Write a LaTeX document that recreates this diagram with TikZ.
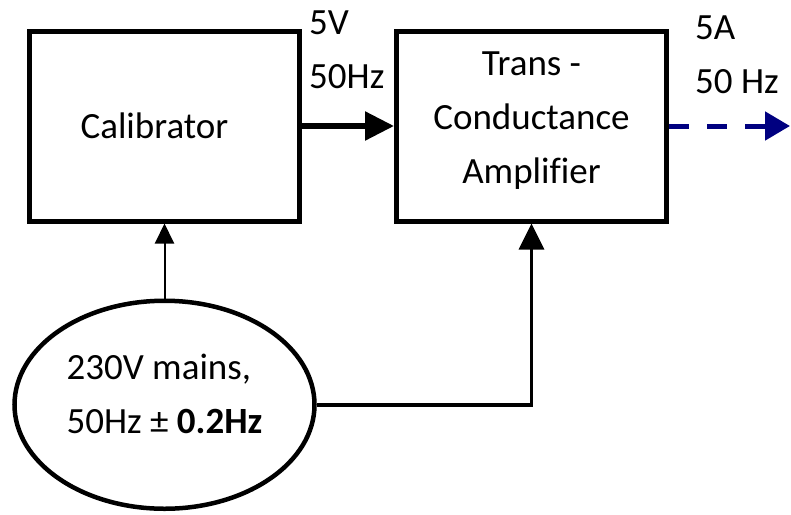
\documentclass[tikz,border=0pt]{standalone}
\usepackage{fontspec}
\setmainfont[Ligatures=NoCommon]{Carlito}
\usepackage{xcolor}
\usetikzlibrary{arrows.meta,positioning,calc,shapes.geometric}
\definecolor{InkBlack}{HTML}{000000}
\definecolor{NavyBlue}{HTML}{000080}
\tikzset{
  block/.style={draw=InkBlack, line width=5pt, minimum width=270pt, minimum height=190pt, align=center, inner sep=0pt},
  source/.style={ellipse, draw=InkBlack, line width=4.5pt, minimum width=300pt, minimum height=208pt, align=left, inner sep=0pt},
  lbl/.style={align=left, inner sep=0pt},
  bigarrow/.style={-{Triangle[length=29pt,width=28pt]}, line width=5.5pt, draw=InkBlack},
  feedarrow/.style={-{Triangle[length=26pt,width=25pt]}, line width=3.5pt, draw=InkBlack},
  thinarrow/.style={-{Triangle[length=20pt,width=19pt]}, line width=2pt, draw=InkBlack},
  outarrow/.style={-{Triangle[length=25pt,width=28pt]}, line width=5pt, draw=NavyBlue, dash pattern=on 20pt off 18pt}
}

\begin{document}
\begin{tikzpicture}[x=1pt, y=1pt, node distance=75pt and 92pt, every node/.style={font=\fontsize{37}{54}\selectfont}]
\useasboundingbox (0,0) rectangle (791,-514);
\node[block] (cal) at (164.5,-126) {Calibrator\hspace*{20pt}};
\node[block, right=of cal] (tca) {Trans -\\Conductance\\Amplifier\rule[-16pt]{0pt}{0pt}};
\node[source, below=of cal] (mains) {230V mains,\\50Hz ± \textbf{0.2Hz}\rule[-22pt]{0pt}{0pt}};

\node[lbl, anchor=north west] (calout) at ([xshift=7pt,yshift=18pt]cal.north east) {5V\\50Hz};
\node[lbl, anchor=north west] (tcaout) at ([xshift=26pt,yshift=13pt]tca.north east) {5A\\50 Hz};
\coordinate (outend) at (790,-126);

\draw[bigarrow] (cal) -- (tca);
\draw[outarrow] (tca) -- (outend);
\draw[thinarrow] (mains) -- (cal);
\draw[feedarrow] (mains) -| (tca);
\end{tikzpicture}
\end{document}
